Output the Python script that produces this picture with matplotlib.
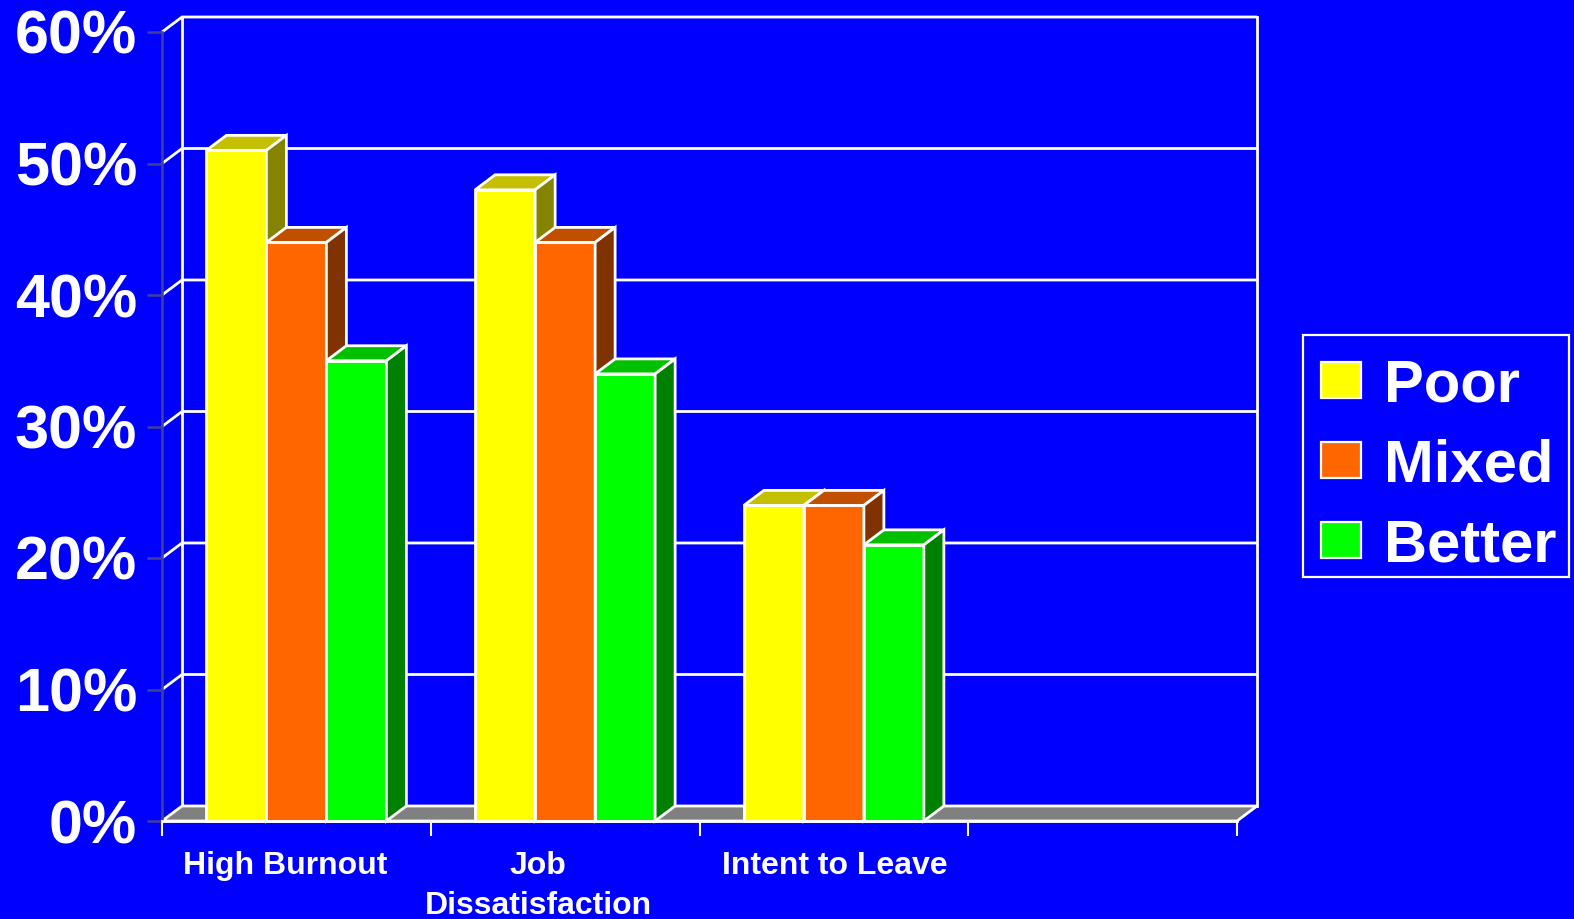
import matplotlib
matplotlib.use("Agg")
import matplotlib.pyplot as plt
from matplotlib.patches import Polygon, Rectangle
from matplotlib.transforms import offset_copy

plt.rcParams['font.family'] = ['Liberation Sans', 'DejaVu Sans']
plt.rcParams['font.weight'] = 'bold'

categories = ["High Burnout", "Job\nDissatisfaction", "Intent to Leave"]
series = ["Poor", "Mixed", "Better"]
poor = [51, 48, 24]
mixed = [44, 44, 24]
better = [35, 34, 21]
yticks = [0, 10, 20, 30, 40, 50, 60]
ytick_labels = ["0%", "10%", "20%", "30%", "40%", "50%", "60%"]

face = ["#FFFF00", "#FF6600", "#00FF00"]
top = ["#C4C000", "#C05000", "#00C000"]
side = ["#848400", "#803300", "#008000"]
BG = "#0000FF"
WHITE = "white"

W, H = 1574, 919
fig = plt.figure(figsize=(W / 100, H / 100), dpi=100, facecolor=BG)

# front plane of the plot box, in pixels
x0, x1, y0, y1 = 162, 1237, 821, 32
nslots = 4
ax = fig.add_axes([x0 / W, 1 - y0 / H, (x1 - x0) / W, (y0 - y1) / H])
ax.set_xlim(0, nslots)
ax.set_ylim(0, 60)
ax.patch.set_visible(False)

# depth offset for the 3d look, in data units
ddx = 20 / (x1 - x0) * nslots
ddy = 15 / (y0 - y1) * 60
lw = 2.0

# back wall + side wall gridlines
for v in yticks[1:]:
    ax.plot([0, ddx, nslots + ddx], [v, v + ddy, v + ddy], color=WHITE, lw=lw,
            clip_on=False, zorder=1, solid_capstyle='butt')
for xx in (ddx, nslots + ddx):
    ax.plot([xx, xx], [ddy, 60 + ddy], color=WHITE, lw=lw, clip_on=False, zorder=1)

# floor
ax.add_patch(Polygon([(0, 0), (ddx, ddy), (nslots + ddx, ddy), (nslots, 0)],
                     closed=True, facecolor="#808080", edgecolor=WHITE, lw=lw,
                     clip_on=False, zorder=2))

# bars
bw = 60 / (x1 - x0) * nslots
for i in range(len(categories)):
    for j, vals in enumerate([poor, mixed, better]):
        v = vals[i]
        xl = i + 0.5 - 1.5 * bw + j * bw
        kw = dict(edgecolor=WHITE, lw=lw, clip_on=False, zorder=3, joinstyle='miter')
        ax.add_patch(Rectangle((xl, 0), bw, v, facecolor=face[j], **kw))
        ax.add_patch(Polygon([(xl, v), (xl + ddx, v + ddy), (xl + bw + ddx, v + ddy), (xl + bw, v)],
                             closed=True, facecolor=top[j], **kw))
        ax.add_patch(Polygon([(xl + bw, 0), (xl + bw + ddx, ddy), (xl + bw + ddx, v + ddy), (xl + bw, v)],
                             closed=True, facecolor=side[j], **kw))

# axes
for s in ("top", "right"):
    ax.spines[s].set_visible(False)
ax.spines["left"].set_color("#40409C")
ax.spines["left"].set_linewidth(1.8)
ax.spines["bottom"].set_color(WHITE)
ax.spines["bottom"].set_linewidth(lw)
ax.spines["bottom"].set_zorder(4)
ax.set_yticks(yticks)
ax.set_yticklabels(ytick_labels)
ax.tick_params(axis="y", direction="out", length=10.8, width=1.8, color="#40409C",
               pad=7, labelsize=44, labelcolor=WHITE)
ax.set_xticks(range(nslots + 1))
ax.set_xticklabels([])
ax.tick_params(axis="x", direction="out", length=10.5, width=1.5, color=WHITE)

label_dx = [-11, -27, 1]
for i, c in enumerate(categories):
    tr = offset_copy(ax.transData, fig=fig, x=label_dx[i], y=-30, units='dots')
    ax.text(i + 0.5, 0, c, transform=tr, ha="center", va="top",
            fontsize=23, fontweight="bold", color=WHITE, linespacing=1.45)

# legend, drawn in pixel coordinates
lg = fig.add_axes([0, 0, 1, 1])
lg.set_xlim(0, W)
lg.set_ylim(H, 0)
lg.axis("off")
lg.add_patch(Rectangle((1303, 335), 266, 242, fill=False, edgecolor=WHITE, lw=1.6))
for j, name in enumerate(series):
    cy = 380 + 80 * j
    lg.add_patch(Rectangle((1321, cy - 18), 40, 36, facecolor=face[j], edgecolor=WHITE, lw=1.6))
    lg.text(1384, cy + 21, name, ha="left", va="baseline", fontsize=43,
            fontweight="bold", color=WHITE)

fig.savefig("out.png", dpi=100, facecolor=BG)
